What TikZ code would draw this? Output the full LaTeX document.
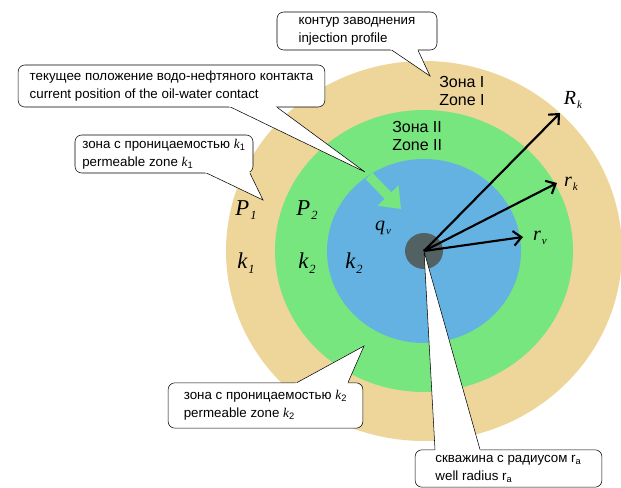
\documentclass[tikz,border=0pt]{standalone}
\usepackage{fontspec}
\usepackage{graphicx}
\setmainfont{Liberation Serif}
\setsansfont{Liberation Sans}
\usetikzlibrary{arrows.meta,
                calc,
                positioning}
\definecolor{zonetan}{RGB}{238,213,154}
\definecolor{zonegreen}{RGB}{119,230,127}
\definecolor{zoneblue}{RGB}{100,178,226}
\definecolor{wellgrey}{RGB}{82,98,98}
\newcommand{\sym}[2]{{\itshape #1\kern0.05em\raisebox{-0.45ex}{\scalebox{0.55}{#2}}}}
\newcommand{\drawtail}[4]
{   % #1 = side of the box the tail leaves from
    % #2 = x of first base point
    % #3 = x of second base point
    % #4 = tip of the tail
    \coordinate (tail a) at (#2,0 |- #1);
    \coordinate (tail b) at (#3,0 |- #1);
    \fill[white] ($(tail a)!-2pt!(#4)$) -- (#4) -- ($(tail b)!-2pt!(#4)$) -- cycle;
    \draw[thin] (tail a) -- (#4) -- (tail b);
}

\begin{document}
\begin{tikzpicture}[x=0.75pt,y=-0.75pt]
    \tikzset
    {
        callout/.style = {draw,
                          fill = white,
                          thin,
                          rounded corners = 5pt,
                          inner sep = 0pt,
                          align = left,
                          font = \sffamily\fontsize{10}{13.5}\selectfont},
        zonetext/.style = {align = left,
                           inner sep = 0pt,
                           font = \sffamily\fontsize{12}{14}\selectfont},
        biglabel/.style = {inner sep = 0pt,
                           font = \fontsize{17}{20}\selectfont},
        radlabel/.style = {inner sep = 0pt,
                           font = \fontsize{15}{18}\selectfont},
        radius arrow/.style = {line width = 1.6pt,
                               -{Straight Barb[length=6pt,width=11pt]}}
    };
    \useasboundingbox (0,0) rectangle (621,488);

    % Zones
    \coordinate (well) at (424,251);
    \fill[zonetan]   (well) ellipse [x radius=198, y radius=190];
    \fill[zonegreen] (well) ellipse [x radius=149, y radius=141];
    \fill[zoneblue]  (well) ellipse [x radius=97,  y radius=92];
    \fill[wellgrey]  (well) ellipse [x radius=19,  y radius=18];

    % Radii
    \coordinate (Rk end) at (560,113);
    \coordinate (rk end) at (557,183);
    \coordinate (rv end) at (523,237);
    \draw[radius arrow] (well) -- (Rk end);
    \draw[radius arrow] (well) -- (rk end);
    \draw[radius arrow] (well) -- (rv end);
    \node[radlabel] (Rk) at (573,100) {\sym{R}{k}};
    \node[radlabel] (rk) at (571,184) {\sym{r}{k}};
    \node[radlabel] (rv) at (540,238) {\sym{r}{v}};

    % Inflow
    \coordinate (flow start) at (369,176);
    \coordinate (flow end)   at (401,209);
    \draw[zonegreen, line width=7pt, -{Triangle[length=14pt,width=21pt]}]
        (flow start) -- (flow end);
    \node[radlabel] (qv) at (383,228) {\sym{q}{v}};

    % Zone labels
    \node[biglabel] (P1) at (246,210) {\sym{P}{1}};
    \node[biglabel] (P2) at (307,210) {\sym{P}{2}};
    \node[biglabel] (k1) at (246,263) {\sym{k}{1}};
    \node[biglabel] (k2) at (307,263) {\sym{k}{2}};
    \node[biglabel] (k2 in) at (354,263) {\sym{k}{2}};
    \node[zonetext, anchor=west] (zone I) at (439,91) {Зона I\\Zone I};
    \node[zonetext, anchor=west] (zone II) at (392,136) {Зона II\\Zone II};

    % Callouts
    \node[callout, minimum width=120pt, minimum height=28.5pt] (flood) at (357,31)
        {контур заводнения\\injection profile};
    \drawtail{flood.south}{392}{418}{430,76}
    \node[callout, minimum width=230pt, minimum height=31.5pt] (contact) at (171.5,86)
        {текущее положение водо-нефтяного контакта\\current position of the oil-water contact};
    \drawtail{contact.south}{231}{277}{365,172}
    \node[callout, minimum width=133.5pt, minimum height=28.5pt] (zone one) at (164,154)
        {зона с проницаемостью {\rmfamily\itshape k}\textsubscript{1}\\permeable zone {\rmfamily\itshape k}\textsubscript{1}};
    \drawtail{zone one.south}{207}{250}{263,200}
    \node[callout, minimum width=146pt, minimum height=34pt] (zone two) at (265.5,405.5)
        {зона с проницаемостью {\rmfamily\itshape k}\textsubscript{2}\\permeable zone {\rmfamily\itshape k}\textsubscript{2}};
    \drawtail{zone two.north}{297}{348}{364,346}
    \node[callout, minimum width=140pt, minimum height=28pt] (well box) at (508.5,468.5)
        {скважина с радиусом r\textsubscript{a}\\well radius r\textsubscript{a}};
    \drawtail{well box.north}{435}{480}{well}

\end{tikzpicture}
\end{document}
